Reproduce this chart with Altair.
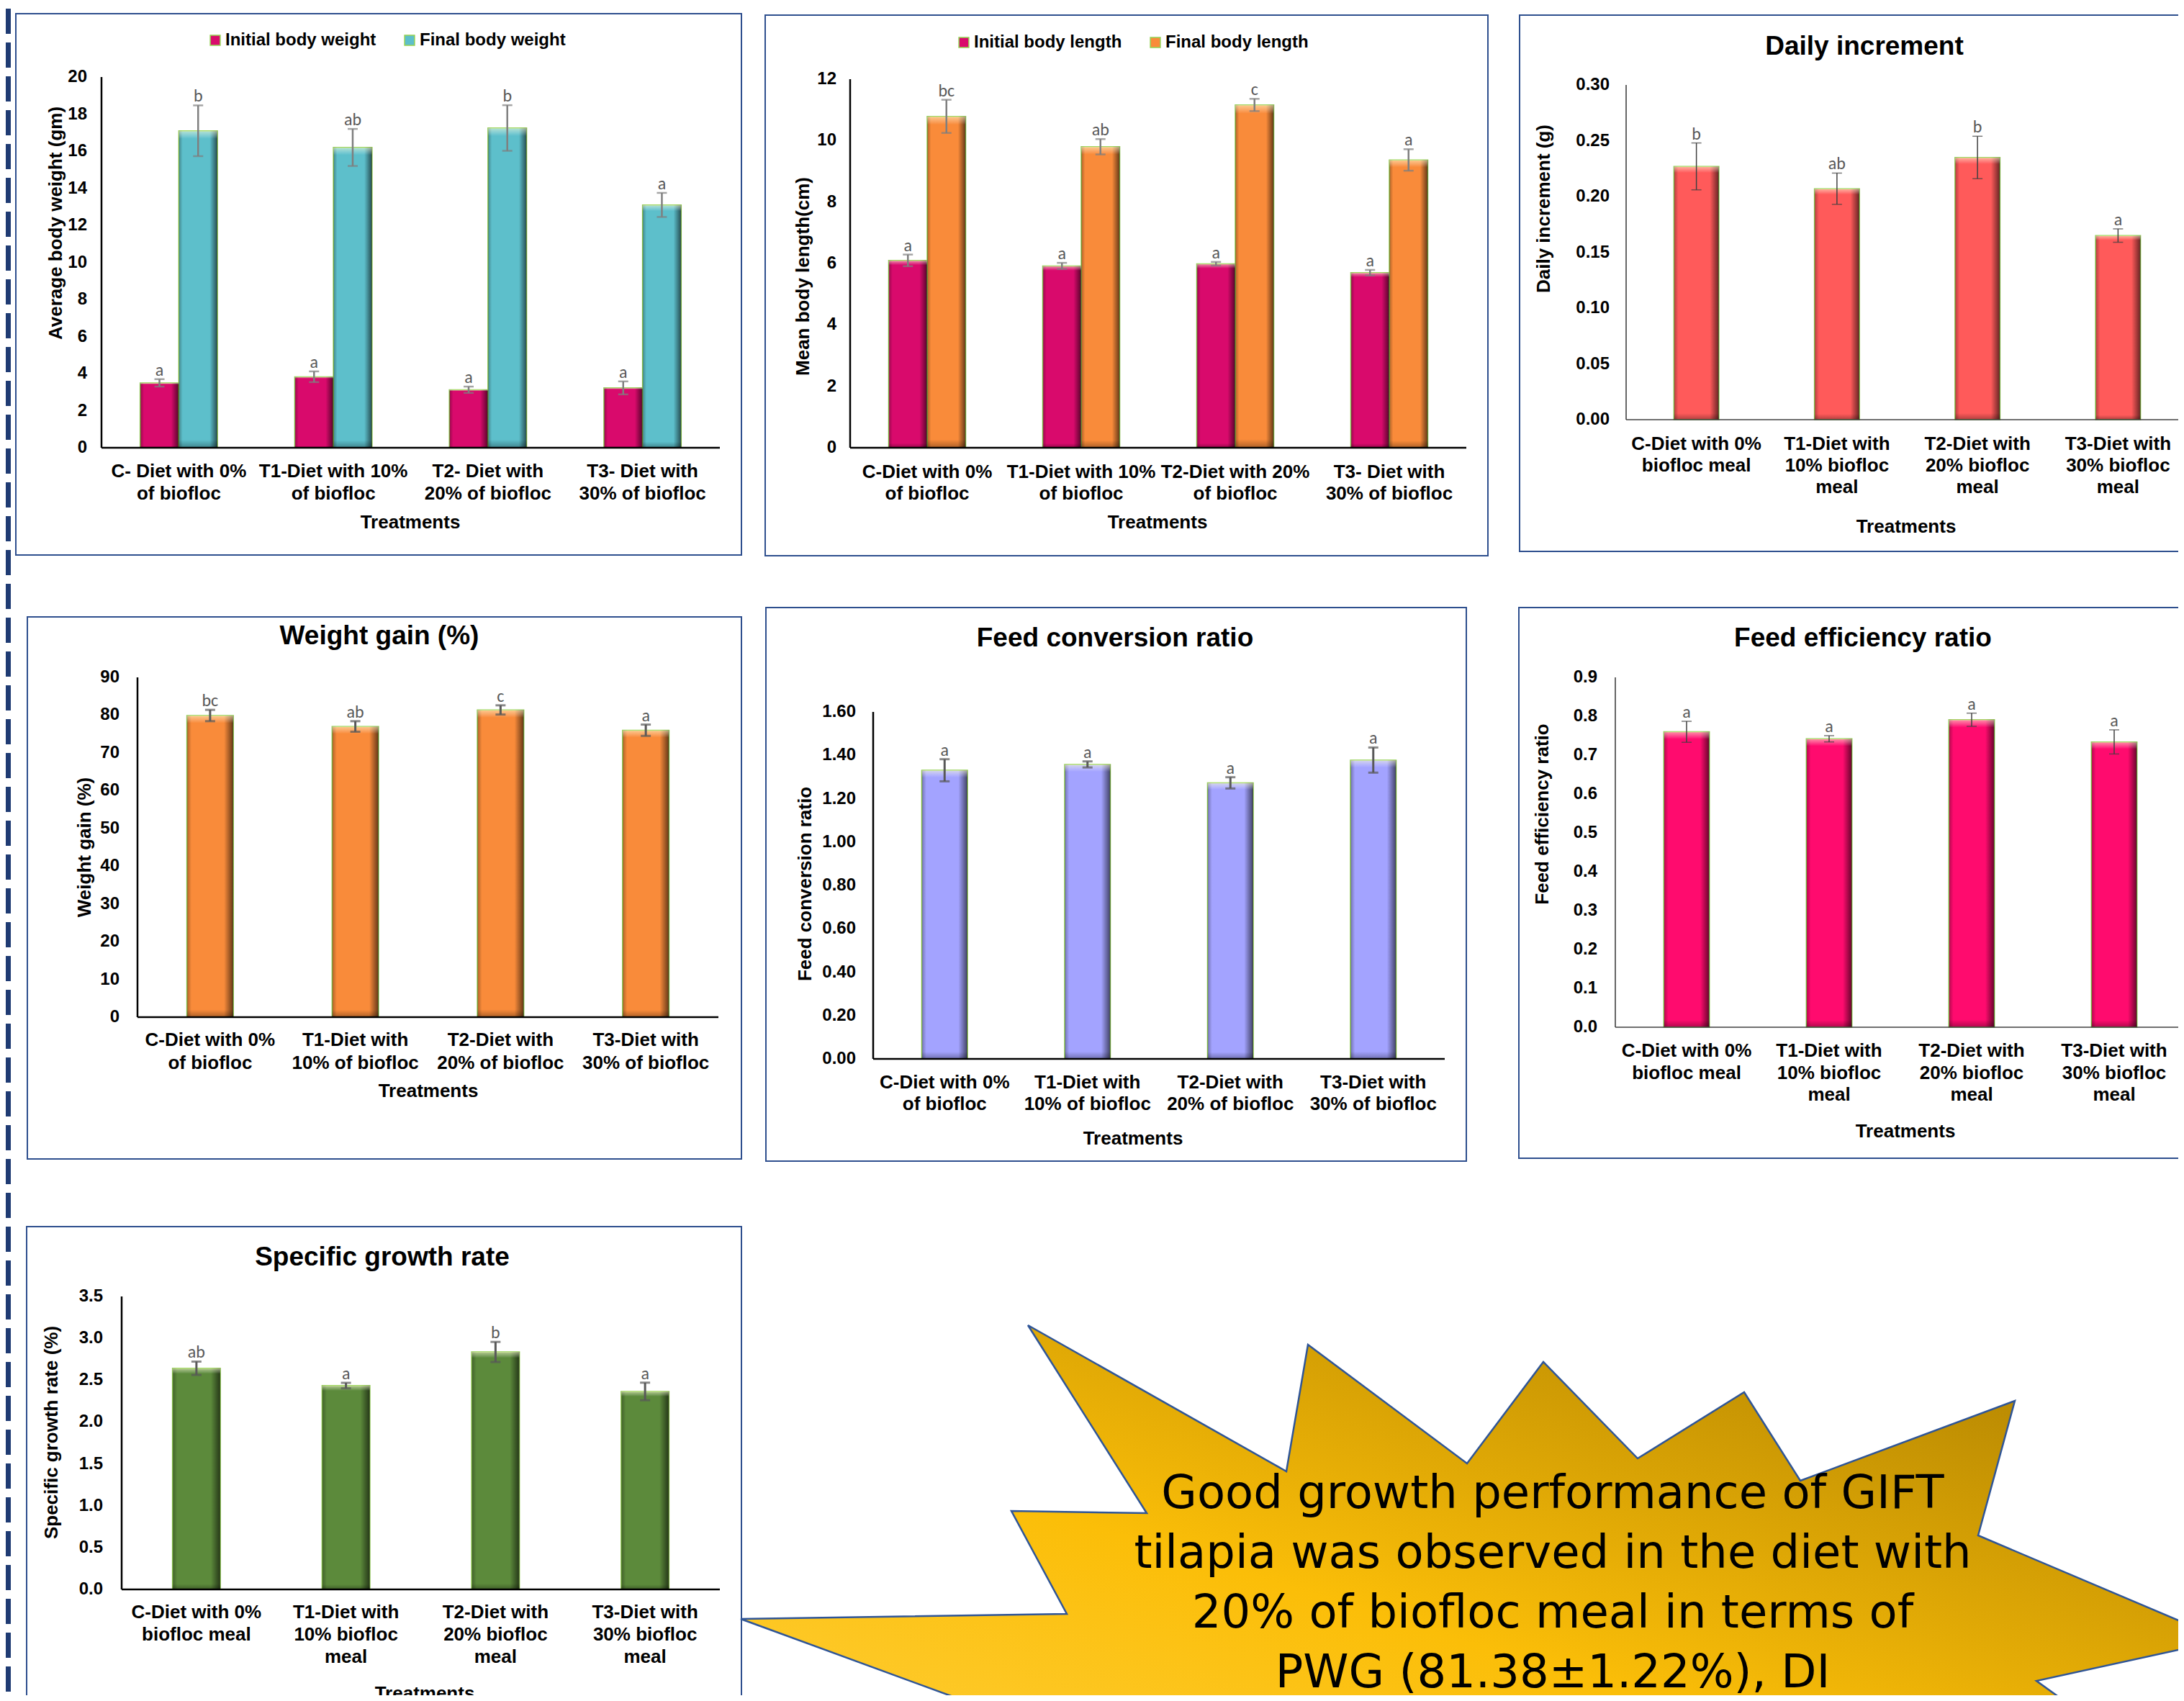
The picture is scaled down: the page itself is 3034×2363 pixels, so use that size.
import altair as alt
import pandas as pd

W, H = 3018, 2347
M = 8

FC = '"Liberation Sans", Arial, sans-serif'
FA = '"Liberation Sans", Arial, sans-serif'
FL = '"Carlito", "DejaVu Sans Condensed", "Liberation Sans", sans-serif'
FS = '"DejaVu Sans", Verdana, sans-serif'

# ---------------- data ----------------
lab_bw = ["C- Diet with 0%\nof biofloc", "T1-Diet with 10%\nof biofloc",
          "T2- Diet with\n20% of biofloc", "T3- Diet with\n30% of biofloc"]
lab_bl = ["C-Diet with 0%\nof biofloc", "T1-Diet with 10%\nof biofloc",
          "T2-Diet with 20%\nof biofloc", "T3- Diet with\n30% of biofloc"]
lab_meal = ["C-Diet with 0%\nbiofloc meal", "T1-Diet with\n10% biofloc\nmeal",
            "T2-Diet with\n20% biofloc\nmeal", "T3-Diet with\n30% biofloc\nmeal"]
lab_of = ["C-Diet with 0%\nof biofloc", "T1-Diet with\n10% of biofloc",
          "T2-Diet with\n20% of biofloc", "T3-Diet with\n30% of biofloc"]

bw_series = ["Initial body weight", "Final body weight"]
ibw = [3.50, 3.83, 3.13, 3.23]
ibw_sd = [0.20, 0.29, 0.17, 0.35]
ibw_let = ["a", "a", "a", "a"]
fbw = [17.10, 16.20, 17.25, 13.10]
fbw_sd = [1.37, 1.00, 1.23, 0.65]
fbw_let = ["b", "ab", "b", "a"]

bl_series = ["Initial body length", "Final body length"]
ibl = [6.10, 5.92, 5.99, 5.70]
ibl_sd = [0.19, 0.10, 0.06, 0.09]
ibl_let = ["a", "a", "a", "a"]
fbl = [10.79, 9.80, 11.16, 9.37]
fbl_sd = [0.54, 0.25, 0.20, 0.35]
fbl_let = ["bc", "ab", "c", "a"]

di = [0.227, 0.207, 0.235, 0.165]
di_sd = [0.021, 0.014, 0.019, 0.006]
di_let = ["b", "ab", "b", "a"]

wg = [79.9, 77.0, 81.38, 76.0]
wg_sd = [1.5, 1.4, 1.22, 1.5]
wg_let = ["bc", "ab", "c", "a"]

fcr = [1.331, 1.358, 1.273, 1.378]
fcr_sd = [0.051, 0.014, 0.026, 0.058]
fcr_let = ["a", "a", "a", "a"]

fer = [0.760, 0.742, 0.791, 0.734]
fer_sd = [0.027, 0.008, 0.017, 0.031]
fer_let = ["a", "a", "a", "a"]

sgr = [2.642, 2.435, 2.837, 2.365]
sgr_sd = [0.080, 0.033, 0.120, 0.105]
sgr_let = ["ab", "a", "b", "a"]

ticks_bw = [0, 2, 4, 6, 8, 10, 12, 14, 16, 18, 20]
ticks_bl = [0, 2, 4, 6, 8, 10, 12]
ticks_di = [0.0, 0.05, 0.10, 0.15, 0.20, 0.25, 0.30]
ticks_wg = [0, 10, 20, 30, 40, 50, 60, 70, 80, 90]
ticks_fcr = [0.0, 0.2, 0.4, 0.6, 0.8, 1.0, 1.2, 1.4, 1.6]
ticks_fer = [0.0, 0.1, 0.2, 0.3, 0.4, 0.5, 0.6, 0.7, 0.8, 0.9]
ticks_sgr = [0.0, 0.5, 1.0, 1.5, 2.0, 2.5, 3.0, 3.5]

star_lines = ["Good growth performance of GIFT",
              "tilapia was observed in the diet with",
              "20% of biofloc meal in terms of",
              "PWG (81.38±1.22%), DI"]
star_x = [1029, 1482, 1405, 1593, 1428, 1787, 1817, 2038, 2144, 2275, 2423,
          2501, 2799, 2748, 3090, 2829, 3030, 1660]
star_y = [2249, 2242, 2099, 2102, 1841, 2044, 1868, 2033, 1892, 2026, 1934,
          2057, 1946, 2133, 2278, 2335, 2480, 2480]

DUMMY = pd.DataFrame({"d": [0]})

SHADE = {"gradient": "linear", "x1": 0, "y1": 0, "x2": 1, "y2": 0, "stops": [
    {"offset": 0, "color": "rgba(0,0,0,0.30)"},
    {"offset": 0.1, "color": "rgba(0,0,0,0)"},
    {"offset": 0.8, "color": "rgba(0,0,0,0)"},
    {"offset": 1, "color": "rgba(0,0,0,0.6)"}]}
VSHADE = {"gradient": "linear", "x1": 0, "y1": 0, "x2": 0, "y2": 1, "stops": [
    {"offset": 0, "color": "rgba(255,255,210,0.55)"},
    {"offset": 0.025, "color": "rgba(255,255,255,0)"},
    {"offset": 0.975, "color": "rgba(0,0,0,0)"},
    {"offset": 1, "color": "rgba(0,0,0,0.30)"}]}
STAR_GRAD = {"gradient": "linear", "x1": 0, "y1": 1, "x2": 1, "y2": 0, "stops": [
    {"offset": 0, "color": "#FFCF3A"},
    {"offset": 0.4, "color": "#FBBE08"},
    {"offset": 1, "color": "#A57A00"}]}


def c(v):
    return v - M


def frame(x0, y0, x1, y1):
    return alt.Chart(DUMMY).mark_rect(filled=False, stroke="#2E4F8E",
                                      strokeWidth=2).encode(
        x=alt.value(c(x0)), x2=alt.value(c(x1)), y=alt.value(c(y0)), y2=alt.value(c(y1)))


def text_at(txt, x, y, size, font=FC, angle=0):
    return alt.Chart(DUMMY).mark_text(text=txt, font=font, fontSize=size, fontWeight="bold",
                                      color="black", align="center", baseline="middle",
                                      angle=angle).encode(
        x=alt.value(c(x)), y=alt.value(c(y)))


def axis_layers(g, cats, xs, ys, yvals, fmt, ytitle):
    tick_df = pd.DataFrame({"t": yvals, "lab": [format(v, fmt) for v in yvals]})
    cat_df = pd.DataFrame({"cat": cats})
    ydom = alt.Chart(DUMMY).mark_rule(color=g["dc"], strokeWidth=g["dw"]).encode(
        x=alt.value(c(g["ax"])), y=alt.value(c(g["base"])), y2=alt.value(c(g["top"])))
    xdom = alt.Chart(DUMMY).mark_rule(color=g["dc"], strokeWidth=g["dw"]).encode(
        x=alt.value(c(g["x0"])), x2=alt.value(c(g["x1"])), y=alt.value(c(g["base"])))
    ylab = alt.Chart(tick_df).mark_text(font=FC, fontSize=24, fontWeight="bold",
                                        align="right", baseline="middle",
                                        color="black").encode(
        x=alt.value(c(g["ax"] - g["pad"])),
        y=alt.Y("t:Q", scale=ys, axis=None), text="lab:N")
    xlab = alt.Chart(cat_df).mark_text(font=FC, fontSize=26, fontWeight="bold",
                                       align="center", baseline="middle", lineBreak="\n",
                                       lineHeight=g["lh"], color="black").encode(
        x=alt.X("cat:N", sort=cats, scale=xs, axis=None),
        y=alt.value(c(g["l1"])), text="cat:N")
    xt = text_at("Treatments", g["tx"], g["ty"], 26)
    yt = text_at(ytitle, g["yx"], g["yy"], 26, font=FA, angle=270)
    return [ydom, xdom, ylab, xlab, xt, yt]


def panel(g, df, cats, ymax, yvals, fmt, ytitle, grouped=False, series=None,
          colors=None, color=None, legend=None):
    if grouped:
        xs = alt.Scale(range=[c(g["x0"]), c(g["x1"])], paddingInner=0.5, paddingOuter=0.25)
    else:
        xs = alt.Scale(range=[c(g["x0"]), c(g["x1"])], paddingInner=0.68, paddingOuter=0.34)
    ys = alt.Scale(domain=[0, ymax], range=[c(g["base"]), c(g["top"])], nice=False, zero=True)

    def enc(yfield, y2=None):
        e = dict(
            x=alt.X("cat:N", sort=cats, scale=xs, axis=None),
            y=alt.Y(yfield + ":Q", scale=ys, axis=None),
        )
        if y2 is not None:
            e["y2"] = alt.Y2(y2 + ":Q")
        if grouped:
            e["xOffset"] = alt.XOffset("series:N", sort=series,
                                       scale=alt.Scale(paddingInner=0, paddingOuter=0))
        return e

    base = alt.Chart(df)
    if grouped:
        bars = base.mark_bar(stroke="#92D050", strokeWidth=1.5).encode(
            color=alt.Color("series:N", sort=series,
                            scale=alt.Scale(domain=series, range=colors),
                            legend=legend),
            **enc("v"))
    else:
        bars = base.mark_bar(stroke="#92D050", strokeWidth=1.5, color=color).encode(**enc("v"))
    shade = base.mark_bar(fill=SHADE).encode(**enc("v"))
    vshade = base.mark_bar(fill=VSHADE).encode(**enc("v"))
    rule = base.mark_rule(color=g["ec"], strokeWidth=g["ew"]).encode(**enc("lo", y2="hi"))
    cap1 = base.mark_tick(color=g["ec"], thickness=g["ew"], size=14,
                          orient="horizontal").encode(**enc("lo"))
    cap2 = base.mark_tick(color=g["ec"], thickness=g["ew"], size=14,
                          orient="horizontal").encode(**enc("hi"))
    lets = base.mark_text(font=FL, fontSize=24, color="#595959", baseline="alphabetic",
                          align="center", dy=-5).encode(text="let:N", **enc("hi"))
    layers = axis_layers(g, cats, xs, ys, yvals, fmt, ytitle)
    return alt.layer(bars, shade, vshade, rule, cap1, cap2, lets, *layers)


def single_df(cats, vals, sds, lets):
    return pd.DataFrame({"cat": cats, "v": vals,
                         "lo": [v - s for v, s in zip(vals, sds)],
                         "hi": [v + s for v, s in zip(vals, sds)],
                         "let": lets})


def grouped_df(cats, series, v1, s1, l1, v2, s2, l2):
    rows = []
    for name, vv, ss, ll in [(series[0], v1, s1, l1), (series[1], v2, s2, l2)]:
        for ct, v, s, lt in zip(cats, vv, ss, ll):
            rows.append({"cat": ct, "series": name, "v": v, "lo": v - s, "hi": v + s, "let": lt})
    return pd.DataFrame(rows)


def leg(x, y):
    return alt.Legend(orient="none", legendX=c(x) - 7, legendY=c(y) - 12,
                      direction="horizontal", title=None, symbolType="square",
                      symbolSize=190, symbolStrokeColor="#92D050", symbolStrokeWidth=1.5,
                      labelFont=FC, labelFontSize=24, labelFontWeight="bold",
                      labelColor="black", columnPadding=34, labelOffset=2, labelLimit=400)


DARK = dict(dc="black", dw=2.5, ec="#7F7F7F", ew=2.5)
MID = dict(dc="black", dw=2.5, ec="#595959", ew=3)
THIN = dict(dc="#404040", dw=1.6, ec="#404040", ew=1.5)

G1 = dict(ax=141, base=622, top=107, x0=141, x1=1000, l1=655, lh=31, tx=570, ty=726,
          yx=78, yy=310, pad=20, **DARK)
G2 = dict(ax=1181, base=622, top=110, x0=1181, x1=2037, l1=656, lh=30, tx=1608, ty=726,
          yx=1116, yy=384, pad=19, **DARK)
G3 = dict(ax=2259, base=583, top=118, x0=2259, x1=3040, l1=617, lh=30, tx=2648, ty=732,
          yx=2145, yy=290, pad=23, **THIN)
G4 = dict(ax=191, base=1413, top=941, x0=191, x1=998, l1=1445, lh=32, tx=595, ty=1516,
          yx=118, yy=1177, pad=25, **MID)
G5 = dict(ax=1213, base=1471, top=989, x0=1213, x1=2007, l1=1504, lh=30, tx=1574, ty=1582,
          yx=1119, yy=1228, pad=24, **MID)
G6 = dict(ax=2244, base=1427, top=941, x0=2244, x1=3036, l1=1460, lh=30.5, tx=2647, ty=1572,
          yx=2143, yy=1131, pad=25, **THIN)
G7 = dict(ax=169, base=2208, top=1801, x0=169, x1=1000, l1=2240, lh=31, tx=590, ty=2353,
          yx=72, yy=1990, pad=26, **MID)

p1 = panel(G1, grouped_df(lab_bw, bw_series, ibw, ibw_sd, ibw_let, fbw, fbw_sd, fbw_let),
           lab_bw, 20, ticks_bw, "d", "Average  body weight (gm)",
           grouped=True, series=bw_series, colors=["#D90A6C", "#5DBFCB"], legend=leg(294, 56))
p2 = panel(G2, grouped_df(lab_bl, bl_series, ibl, ibl_sd, ibl_let, fbl, fbl_sd, fbl_let),
           lab_bl, 12, ticks_bl, "d", "Mean  body length(cm)",
           grouped=True, series=bl_series, colors=["#D90A6C", "#F98B3A"], legend=leg(1334, 59))
p3 = panel(G3, single_df(lab_meal, di, di_sd, di_let), lab_meal, 0.30,
           ticks_di, ".2f", "Daily  increment  (g)", color="#FF5A5A")
p4 = panel(G4, single_df(lab_of, wg, wg_sd, wg_let), lab_of, 90,
           ticks_wg, "d", "Weight gain  (%)", color="#F98B3A")
p5 = panel(G5, single_df(lab_of, fcr, fcr_sd, fcr_let), lab_of, 1.60,
           ticks_fcr, ".2f", "Feed  conversion  ratio", color="#A3A3FF")
p6 = panel(G6, single_df(lab_meal, fer, fer_sd, fer_let), lab_meal, 0.9,
           ticks_fer, ".1f", "Feed  efficiency  ratio", color="#FF0B6E")
p7 = panel(G7, single_df(lab_meal, sgr, sgr_sd, sgr_let), lab_meal, 3.5,
           ticks_sgr, ".1f", "Specific  growth rate  (%)", color="#5C8A3B")

frames = [frame(22, 19, 1030, 771), frame(1063, 21, 2067, 772), frame(2111, 21, 3060, 766),
          frame(38, 857, 1030, 1610), frame(1064, 844, 2037, 1613), frame(2110, 844, 3060, 1609),
          frame(37, 1704, 1030, 2420)]
titles = [text_at("Daily increment", 2590, 65, 37), text_at("Weight gain (%)", 527, 884, 37),
          text_at("Feed conversion ratio", 1549, 887, 37),
          text_at("Feed efficiency ratio", 2588, 887, 37),
          text_at("Specific growth rate", 531, 1747, 37)]

star_df = pd.DataFrame({"sx": [c(v) for v in star_x], "sy": [c(v) for v in star_y],
                        "i": list(range(len(star_x)))})
star = alt.Chart(star_df).mark_line(interpolate="linear-closed", fill=STAR_GRAD,
                                    stroke="#2F5597", strokeWidth=2.5).encode(
    x=alt.X("sx:Q", scale=alt.Scale(domain=[0, W], range=[0, W], nice=False, zero=False),
            axis=None),
    y=alt.Y("sy:Q", scale=alt.Scale(domain=[0, H], range=[0, H], nice=False, zero=False),
            axis=None),
    order="i:Q")
star_text = alt.Chart(DUMMY).mark_text(text=star_lines, font=FS, fontSize=64, align="center",
                                       baseline="middle", lineHeight=83, color="black").encode(
    x=alt.value(c(2157)), y=alt.value(c(2076)))

dash = alt.Chart(DUMMY).mark_rule(strokeDash=[35, 12], strokeWidth=10, color="#1F3B73").encode(
    x=alt.value(2), y=alt.value(4), y2=alt.value(H))

chart = alt.layer(
    *frames, *titles, p1, p2, p3, p4, p5, p6, p7, star, star_text, dash
).resolve_scale(
    x="independent", y="independent", color="independent", xOffset="independent"
).resolve_legend(
    color="independent"
).properties(
    width=W, height=H, autosize=alt.AutoSizeParams(type="none"), padding=0,
    background="white"
).configure_view(strokeWidth=0)

chart.save("out.html", embed_options={"renderer": "svg", "actions": False})
